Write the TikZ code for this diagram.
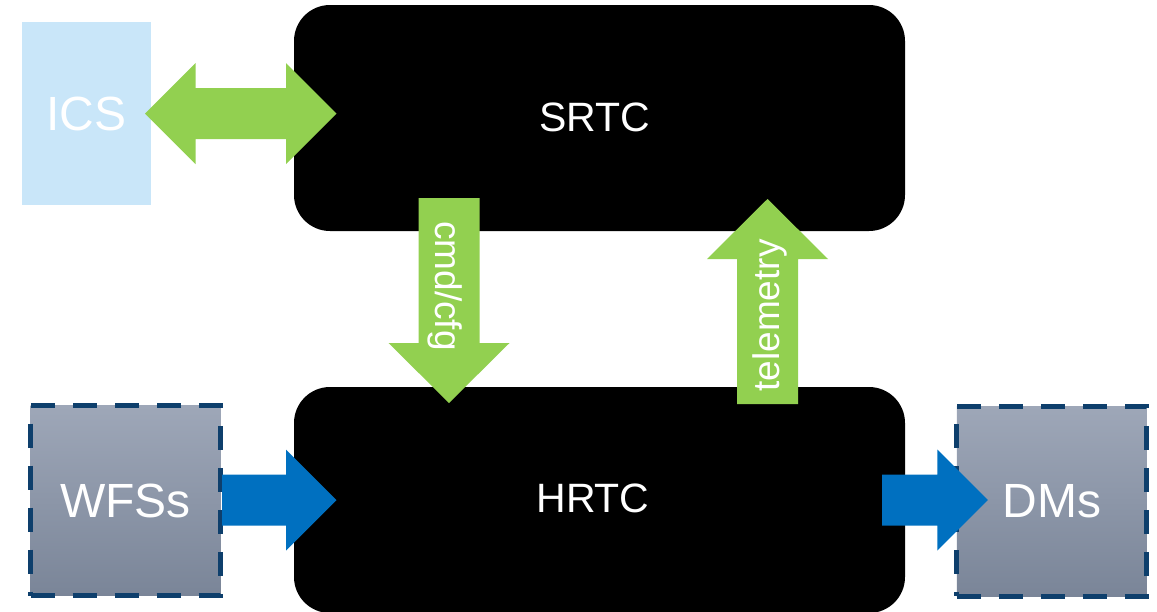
\documentclass[tikz,border=0pt]{standalone}
\usepackage{fontspec}
\setmainfont{Liberation Sans}
\usetikzlibrary{calc}

\definecolor{arrowgreen}{HTML}{92D050}
\definecolor{flowblue}{HTML}{0070C0}
\definecolor{icsblue}{HTML}{C9E6F9}
\definecolor{dashblue}{HTML}{0E3F6C}
\definecolor{devtop}{HTML}{9EA7B8}
\definecolor{devbot}{HTML}{7A8598}

% Horizontal block arrow pointing right, from #1 to #2
\newcommand\rightblock[3]{%
  \fill[#3] let \p1=(#1), \p2=(#2) in
    (\x1,\y1+25.5pt) -- (\x2-50.5pt,\y1+25.5pt) -- (\x2-50.5pt,\y1+50.5pt)
    -- (\x2,\y1) -- (\x2-50.5pt,\y1-50.5pt) -- (\x2-50.5pt,\y1-25.5pt)
    -- (\x1,\y1-25.5pt) -- cycle;}

% Horizontal block arrow with heads at both ends
\newcommand\bothblock[3]{%
  \fill[#3] let \p1=(#1), \p2=(#2) in
    (\x1,\y1) -- (\x1+50.5pt,\y1+50.5pt) -- (\x1+50.5pt,\y1+25.5pt)
    -- (\x2-50.5pt,\y1+25.5pt) -- (\x2-50.5pt,\y1+50.5pt) -- (\x2,\y1)
    -- (\x2-50.5pt,\y1-50.5pt) -- (\x2-50.5pt,\y1-25.5pt)
    -- (\x1+50.5pt,\y1-25.5pt) -- (\x1+50.5pt,\y1-50.5pt) -- cycle;}

% Vertical block arrow from #1 to #2; #4 is + for downward, - for upward
\newcommand\vertblock[4]{%
  \fill[#3] let \p1=(#1), \p2=(#2) in
    (\x1-30.5pt,\y1) -- (\x1-30.5pt,\y2#460pt) -- (\x1-60.5pt,\y2#460pt)
    -- (\x1,\y2) -- (\x1+60.5pt,\y2#460pt) -- (\x1+30.5pt,\y2#460pt)
    -- (\x1+30.5pt,\y1) -- cycle;}

\begin{document}
\begin{tikzpicture}[x=1pt,y=-1pt,
  controller/.style={fill=black, rounded corners=36pt, minimum width=611pt,
    minimum height=226pt, inner sep=0pt, outer sep=0pt},
  device/.style={draw=dashblue, line width=5pt, dash pattern=on 24pt off 18pt,
    top color=devtop, bottom color=devbot, minimum width=190pt,
    minimum height=190pt, inner sep=0pt, outer sep=0pt},
  iface/.style={fill=icsblue, minimum width=129pt, minimum height=183pt,
    inner sep=0pt, outer sep=0pt},
  bigtext/.style={text=white, font=\fontsize{48}{57}\selectfont, inner sep=0pt},
  ctltext/.style={text=white, font=\fontsize{41}{49}\selectfont, inner sep=0pt},
  arrowtext/.style={text=white, font=\fontsize{37}{44}\selectfont, inner sep=0pt}]

\useasboundingbox (0,0) rectangle (1157,611);

% boxes
\node[iface] (ics) at (86.5,113.5) {};
\node[bigtext] (icstext) at (ics.center) {ICS};
\node[controller] (srtc) at (599.5,118) {};
\node[ctltext] (srtctext) at ($(srtc.center)+(-4.5,-0.5)$) {SRTC};
\node[controller] (hrtc) at (599.5,500) {};
\node[ctltext] (hrtctext) at ($(hrtc.center)+(-6.5,-2)$) {HRTC};
\node[device] (wfs) at (125.5,500.7) {};
\node[bigtext] (wfstext) at (wfs.center) {WFSs};
\node[device] (dm) at (1051.8,501) {};
\node[bigtext] (dmtext) at (dm.center) {DMs};

% arrow end points
\coordinate (dblL) at ($(ics.east)+(-6,0)$);
\coordinate (dblR) at ($(srtc.west |- ics.east)+(42.5,0)$);
\coordinate (cmdS) at ($(srtc.south)+(-150.5,-33)$);
\coordinate (cmdE) at ($(hrtc.north -| cmdS)+(0,16)$);
\coordinate (telS) at ($(hrtc.north)+(168,17)$);
\coordinate (telE) at ($(srtc.south -| telS)+(0,-32)$);
\coordinate (wfsS) at ($(wfs.east)+(1.5,-0.7)$);
\coordinate (wfsE) at ($(hrtc.west |- wfsS)+(42.5,0)$);
\coordinate (dmS) at ($(hrtc.east |- dm.west)+(-23,-1)$);
\coordinate (dmE) at ($(dm.west)+(31,-1)$);

% arrows
\bothblock{dblL}{dblR}{arrowgreen}
\vertblock{cmdS}{cmdE}{arrowgreen}{+}
\vertblock{telS}{telE}{arrowgreen}{-}
\rightblock{wfsS}{wfsE}{flowblue}
\rightblock{dmS}{dmE}{flowblue}

% arrow labels
\node[arrowtext, rotate=-90] (cmdtext) at (444.6,286) {cmd/cfg};
\node[arrowtext, rotate=90] (teltext) at (770.4,315.5) {telemetry};
\end{tikzpicture}
\end{document}
